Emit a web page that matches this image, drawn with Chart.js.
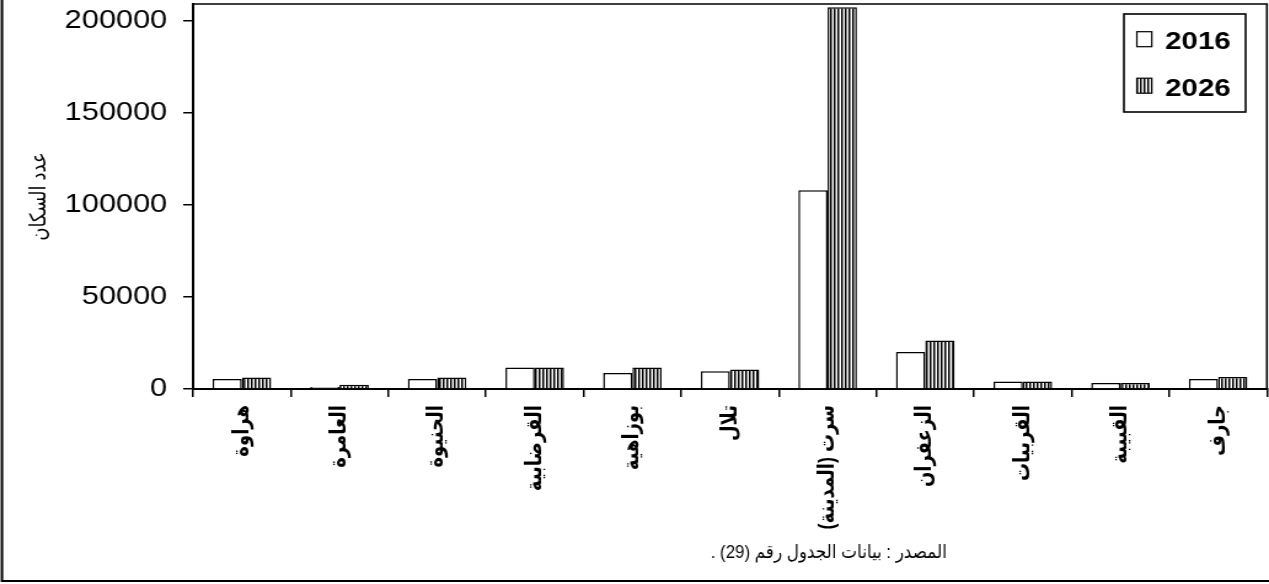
<!DOCTYPE html>
<html>
<head>
<meta charset="utf-8">
<script src="https://cdn.jsdelivr.net/npm/chart.js@4.4.1/dist/chart.umd.min.js"></script>
<style>
  html, body { margin: 0; padding: 0; background: #fff; overflow: hidden; }
  #wrap { width: 1269px; height: 584px; overflow: hidden; }
  #c { transform: scaleX(1.22965); transform-origin: 0 0; display: block; }
</style>
</head>
<body>
<div id="wrap"><canvas id="c" width="1032" height="584"></canvas></div>
<script>
// ---- data ----
const categories = ['هراوة', 'العامرة', 'الحنيوة', 'القرضابية', 'بوزاهية', 'تلال', 'سرت (المدينة)', 'الزعفران', 'القربيات', 'القبيبة', 'جارف'];
const pop2016 = [5400, 1100, 5400, 11700, 8700, 9600, 108000, 20100, 4100, 3300, 5400];
const pop2026 = [6300, 2300, 6300, 11700, 11700, 10600, 207500, 26400, 4100, 3300, 6500];
const seriesLabels = ['2016', '2026'];
const yTicks = [0, 50000, 100000, 150000, 200000];
const yAxisTitle = 'عدد السكان';
const sourceNote = 'المصدر : بيانات الجدول رقم (29) .';

// ---- vertical stripe pattern ----
function stripePattern() {
  const p = document.createElement('canvas');
  p.width = 3; p.height = 8;
  const g = p.getContext('2d');
  g.fillStyle = '#fff'; g.fillRect(0, 0, 3, 8);
  g.fillStyle = '#000'; g.fillRect(0, 0, 1.5, 8);
  return document.getElementById('c').getContext('2d').createPattern(p, 'repeat');
}
const stripes = stripePattern();

const FONT = "'Liberation Sans', 'DejaVu Sans', Arial, sans-serif";

const framePlugin = {
  id: 'frame',
  afterDraw(chart) {
    const ctx = chart.ctx;
    const a = chart.chartArea;
    ctx.save();
    ctx.strokeStyle = '#000';
    // outer frame (top and right cut off by the picture edge)
    ctx.lineWidth = 2;
    ctx.strokeRect(1.6, -10, 1100, 591);
    // plot area box
    ctx.lineWidth = 1.6;
    ctx.beginPath();
    ctx.moveTo(a.left, a.top);
    ctx.lineTo(a.right, a.top);
    ctx.lineTo(a.right, a.bottom);
    ctx.stroke();
    // legend
    const lx = 914, ly = 14, lw = 99, lh = 98;
    ctx.lineWidth = 1.6;
    ctx.strokeRect(lx, ly, lw, lh);
    chart.data.datasets.forEach((ds, i) => {
      const sy = 31.7 + i * 46.5;
      ctx.fillStyle = ds.backgroundColor;
      ctx.fillRect(924.5, sy, 12.2, 15);
      ctx.lineWidth = 1.2;
      ctx.strokeRect(924.5, sy, 12.2, 15);
      ctx.fillStyle = '#000';
      ctx.font = 'bold 24px ' + FONT;
      ctx.textAlign = 'left';
      ctx.textBaseline = 'alphabetic';
      ctx.fillText(ds.label, 947.5, 48.5 + i * 47);
    });
    // source note
    ctx.translate(674, 553);
    ctx.scale(0.72, 1);
    ctx.direction = 'rtl';
    ctx.font = '19px ' + FONT;
    ctx.textAlign = 'center';
    ctx.textBaseline = 'middle';
    ctx.fillStyle = '#000';
    ctx.fillText(sourceNote, 0, 0);
    ctx.restore();
  }
};

new Chart(document.getElementById('c'), {
  type: 'bar',
  data: {
    labels: categories,
    datasets: [
      { label: seriesLabels[0], data: pop2016, backgroundColor: '#ffffff', borderColor: '#000', borderWidth: 1.5 },
      { label: seriesLabels[1], data: pop2026, backgroundColor: stripes, borderColor: '#000', borderWidth: 1.5 }
    ]
  },
  options: {
    responsive: false,
    animation: false,
    events: [],
    layout: { padding: { left: 0, right: 1.7, top: 4, bottom: 0 } },
    plugins: { legend: { display: false }, tooltip: { enabled: false } },
    datasets: { bar: { categoryPercentage: 0.6, barPercentage: 1.0 } },
    scales: {
      x: {
        grid: { display: true, drawOnChartArea: false, offset: true, color: '#000', lineWidth: 1.5, tickLength: 8 },
        border: { display: true, color: '#000', width: 2 },
        ticks: {
          autoSkip: false, minRotation: 90, maxRotation: 90, padding: 8,
          color: '#000', font: { family: FONT, size: 18, weight: 'bold' }
        },
        afterFit(scale) {
          scale.height = 584 - 389;
          scale.paddingLeft = 0; scale.paddingRight = 0;
        }
      },
      y: {
        min: 0, max: 209240,
        grid: { display: true, drawOnChartArea: false, color: '#000', lineWidth: 1.5, tickLength: 8 },
        border: { display: true, color: '#000', width: 2 },
        ticks: {
          autoSkip: false, padding: 13, color: '#000', font: { family: FONT, size: 25 },
          callback: (v) => String(v)
        },
        afterBuildTicks(scale) { scale.ticks = yTicks.map(v => ({ value: v })); },
        title: { display: true, text: yAxisTitle, color: '#000', padding: { top: 21, bottom: 0 }, font: { family: FONT, size: 18 } },
        afterFit(scale) {
          scale.width = 157;
          scale.paddingTop = 0; scale.paddingBottom = 0;
        }
      }
    }
  },
  plugins: [framePlugin]
});
</script>
</body>
</html>
